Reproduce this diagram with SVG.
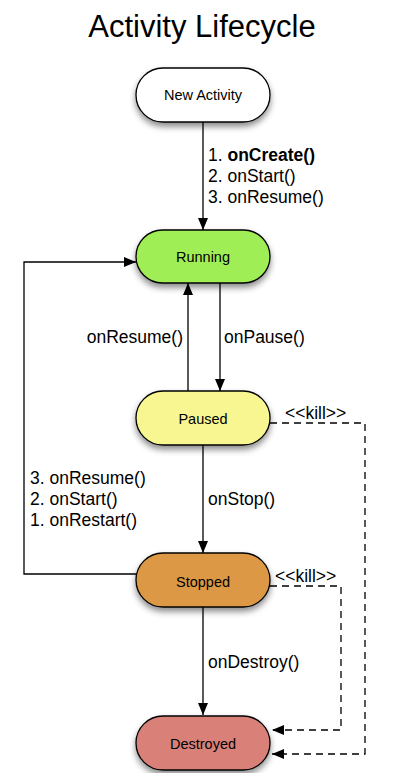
<svg xmlns="http://www.w3.org/2000/svg" width="411" height="773" viewBox="0 0 411 773">
<style>
text{font-family:"Liberation Sans",Arial,sans-serif;fill:#000}
.node rect{stroke:#000;stroke-width:1.3;filter:url(#sh)}
.node text{font-size:14.5px;text-anchor:middle}
.lbl{font-size:17.5px}
.ln{fill:none;stroke:#000;stroke-width:1.3}
.dash{fill:none;stroke:#000;stroke-width:1.3;stroke-dasharray:7,5}
</style>
<defs>
<filter id="sh" x="-20%" y="-30%" width="140%" height="170%">
<feDropShadow dx="0" dy="4" stdDeviation="3" flood-color="#000" flood-opacity="0.45"/>
</filter>
<marker id="ah" viewBox="0 0 12 10" refX="12" refY="5" markerWidth="12" markerHeight="10" markerUnits="userSpaceOnUse" orient="auto">
<path d="M0,0 L12,5 L0,10 z" fill="#000"/>
</marker>
</defs>
<rect width="411" height="773" fill="#fff"/>
<text x="202" y="37" style="font-size:31px" text-anchor="middle">Activity Lifecycle</text>
<g id="connectors">
<path class="ln" d="M203,122 L203,230" marker-end="url(#ah)"/>
<path class="ln" d="M188,391 L188,283" marker-end="url(#ah)"/>
<path class="ln" d="M220,283 L220,391" marker-end="url(#ah)"/>
<path class="ln" d="M203,445 L203,553" marker-end="url(#ah)"/>
<path class="ln" d="M203,607 L203,715" marker-end="url(#ah)"/>
<path class="ln" d="M137,574 L24,574 L24,262 L136,262" marker-end="url(#ah)"/>
<path class="dash" d="M270,423 L365,423 L365,754 L272,754" marker-end="url(#ah)"/>
<path class="dash" d="M270,586 L341,586 L341,730 L272,730" marker-end="url(#ah)"/>
<text class="lbl" x="208" y="161"><tspan x="208">1. </tspan><tspan font-weight="bold">onCreate()</tspan></text>
<text class="lbl" x="208" y="182">2. onStart()</text>
<text class="lbl" x="208" y="203">3. onResume()</text>
<text class="lbl" x="183" y="343" text-anchor="end">onResume()</text>
<text class="lbl" x="224" y="343">onPause()</text>
<text class="lbl" x="208" y="505">onStop()</text>
<text class="lbl" x="208" y="668">onDestroy()</text>
<text class="lbl" x="30" y="484">3. onResume()</text>
<text class="lbl" x="30" y="505">2. onStart()</text>
<text class="lbl" x="30" y="526">1. onRestart()</text>
<text class="lbl" x="285" y="419">&lt;&lt;kill&gt;&gt;</text>
<text class="lbl" x="275" y="582">&lt;&lt;kill&gt;&gt;</text>
</g>
<g id="new-activity" class="node">
<rect x="136" y="68" width="134" height="54" rx="27" fill="#fff"/>
<text x="203" y="100">New Activity</text>
</g>
<g id="running" class="node">
<rect x="136" y="230" width="134" height="53" rx="26.5" fill="#a0ee55"/>
<text x="203" y="262">Running</text>
</g>
<g id="paused" class="node">
<rect x="136" y="391" width="134" height="54" rx="27" fill="#f8f690"/>
<text x="203" y="424">Paused</text>
</g>
<g id="stopped" class="node">
<rect x="136" y="553" width="134" height="54" rx="27" fill="#dc9844"/>
<text x="203" y="587">Stopped</text>
</g>
<g id="destroyed" class="node">
<rect x="136" y="716" width="134" height="54" rx="27" fill="#d98079"/>
<text x="203" y="749">Destroyed</text>
</g>
</svg>
